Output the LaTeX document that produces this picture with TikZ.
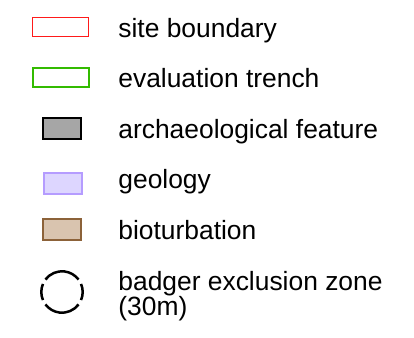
\documentclass[tikz,border=0pt]{standalone}
\usepackage{fontspec}
\setmainfont{Liberation Sans}
\usetikzlibrary{positioning}
\definecolor{siteline}{HTML}{FF1A1A}
\definecolor{trenchline}{HTML}{33BB00}
\definecolor{featfill}{HTML}{A6A6A6}
\definecolor{geofill}{HTML}{DDD6FF}
\definecolor{geoline}{HTML}{B59CFF}
\definecolor{biofill}{HTML}{D9C4AF}
\definecolor{bioline}{HTML}{8C6239}

\begin{document}
\begin{tikzpicture}[x=0.5pt,y=-0.5pt,
  wide/.style={draw,inner sep=0pt,minimum width=28pt,minimum height=9.5pt},
  small/.style={draw,inner sep=0pt,line width=1pt,minimum width=19pt,minimum height=10.5pt},
  keytext/.style={anchor=base west,inner sep=0pt,font=\fontsize{13.2}{12.5}\selectfont}]
\useasboundingbox (0,0) rectangle (414,338);
% swatches
\node[wide,siteline,line width=0.6pt] (site) at (60.5,27) {};
\node[wide,trenchline,line width=1pt] (trench) at (60.8,77.5) {};
\node[small,fill=featfill] (feat) at (62,128.7) {};
\node[small,draw=geoline,fill=geofill] (geo) at (62.8,183.6) {};
\node[small,draw=bioline,fill=biofill] (bio) at (62,229.4) {};
\coordinate (zone) at (62,292);
\foreach \a/\b in {37/143,157/203,217/323,-23/23}
  \draw[line width=1.25pt] (zone) ++(\a:20.7) arc[start angle=\a,end angle=\b,radius=20.7];
% labels
\node[keytext] (sitelbl) at (118,37) {site boundary};
\node[keytext] (trenchlbl) at (118,87.5) {evaluation trench};
\node[keytext] (featlbl) at (118,138) {archaeological feature};
\node[keytext] (geolbl) at (118,188.5) {geology};
\node[keytext] (biolbl) at (118,239) {bioturbation};
% base of a two-line node is its last line
\node[keytext,align=left] (badgerlbl) at (118,315) {badger exclusion zone\\(30m)};
\end{tikzpicture}
\end{document}
